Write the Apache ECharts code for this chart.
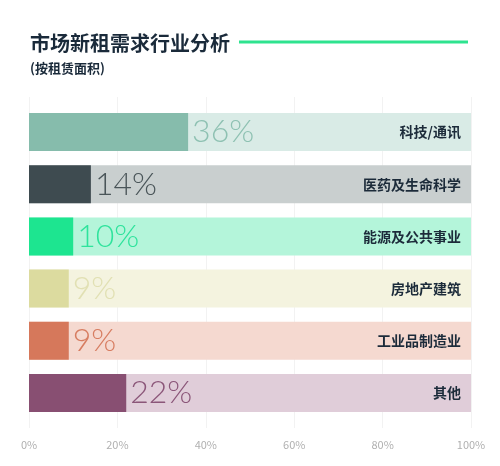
<!DOCTYPE html>
<html><head><meta charset="utf-8">
<script src="https://cdn.jsdelivr.net/npm/echarts@6/dist/echarts.min.js"></script>
<style>html,body{margin:0;padding:0;background:#fff}#c{width:500px;height:466px}</style>
</head><body><div id="c"></div>
<script>
const categories = ['科技/通讯','医药及生命科学','能源及公共事业','房地产建筑','工业品制造业','其他'];
const shares = [36, 14, 10, 9, 9, 22];
const totals = [100, 100, 100, 100, 100, 100];
const tickLabels = ['0%','20%','40%','60%','80%','100%'];

const frontColors = ['#86bcac','#3e4b50','#1de590','#dcdb9f','#d6785b','#884f72'];
const backColors  = ['#d9ebe6','#c9cfcf','#b4f5da','#f4f3df','#f5d9d0','#e0cdd9'];
const labelColors = ['#8ec1b2','#4a5559','#2ee39c','#e1e0b3','#d77d61','#8b5679'];

const chart = echarts.init(document.getElementById('c'), null, {renderer:'canvas'});
const font = '"Noto Sans CJK SC", "Noto Sans", sans-serif';
chart.setOption({
  animation: false,
  textStyle: {fontFamily: font},
  title: [
    {text: '市场新租需求行业分析', left: 25, top: 28,
     textStyle: {fontSize: 20, fontWeight: 'bold', color: '#1a2a3a', fontFamily: font}},
    {text: '(按租赁面积)', left: 25, top: 57,
     textStyle: {fontSize: 13, fontWeight: 'bold', color: '#1a2a3a', fontFamily: font}}
  ],
  graphic: [{type: 'line', shape: {x1: 239, y1: 42, x2: 468, y2: 42},
             style: {stroke: '#2ee38f', lineWidth: 3}}],
  grid: [
    {left: 29, right: 29, top: 106, bottom: 47},
    {left: 29, right: 29, top: 97, bottom: 38}
  ],
  xAxis: [
    {type: 'value', gridIndex: 0, min: 0, max: 100, interval: 20,
     axisLine: {show: false}, axisTick: {show: false}, splitLine: {show: false},
     axisLabel: {margin: 20, fontSize: 11, color: '#b0b0b0',
                 formatter: (v) => tickLabels[v / 20]}},
    {type: 'value', gridIndex: 1, min: 0, max: 100, interval: 20,
     axisLine: {show: false}, axisTick: {show: false}, axisLabel: {show: false},
     splitLine: {show: true, lineStyle: {color: '#f2f2f2', width: 1}}}
  ],
  yAxis: [
    {type: 'category', gridIndex: 0, data: categories, inverse: true, position: 'right',
     axisLine: {show: false}, axisTick: {show: false}, splitLine: {show: false},
     axisLabel: {inside: true, margin: 10, fontSize: 14, fontWeight: 'bold', color: '#1c2b3a', z: 10},
     z: 10},
    {type: 'category', gridIndex: 1, data: ['a'], show: false}
  ],
  series: [
    {type: 'bar', xAxisIndex: 0, yAxisIndex: 0, barWidth: 38, barGap: '-100%', silent: true,
     data: totals.map((v, i) => ({value: v, itemStyle: {color: backColors[i]}})), z: 2},
    {type: 'bar', xAxisIndex: 0, yAxisIndex: 0, barWidth: 38, barGap: '-100%',
     data: shares.map((v, i) => ({value: v, itemStyle: {color: frontColors[i]},
       label: {color: labelColors[i]}})),
     label: {show: true, position: 'right', distance: 4, formatter: '{c}%',
             fontSize: 32, fontWeight: 300, fontFamily: 'Lato, "Open Sans", sans-serif'},
     z: 3}
  ]
});
</script></body></html>
